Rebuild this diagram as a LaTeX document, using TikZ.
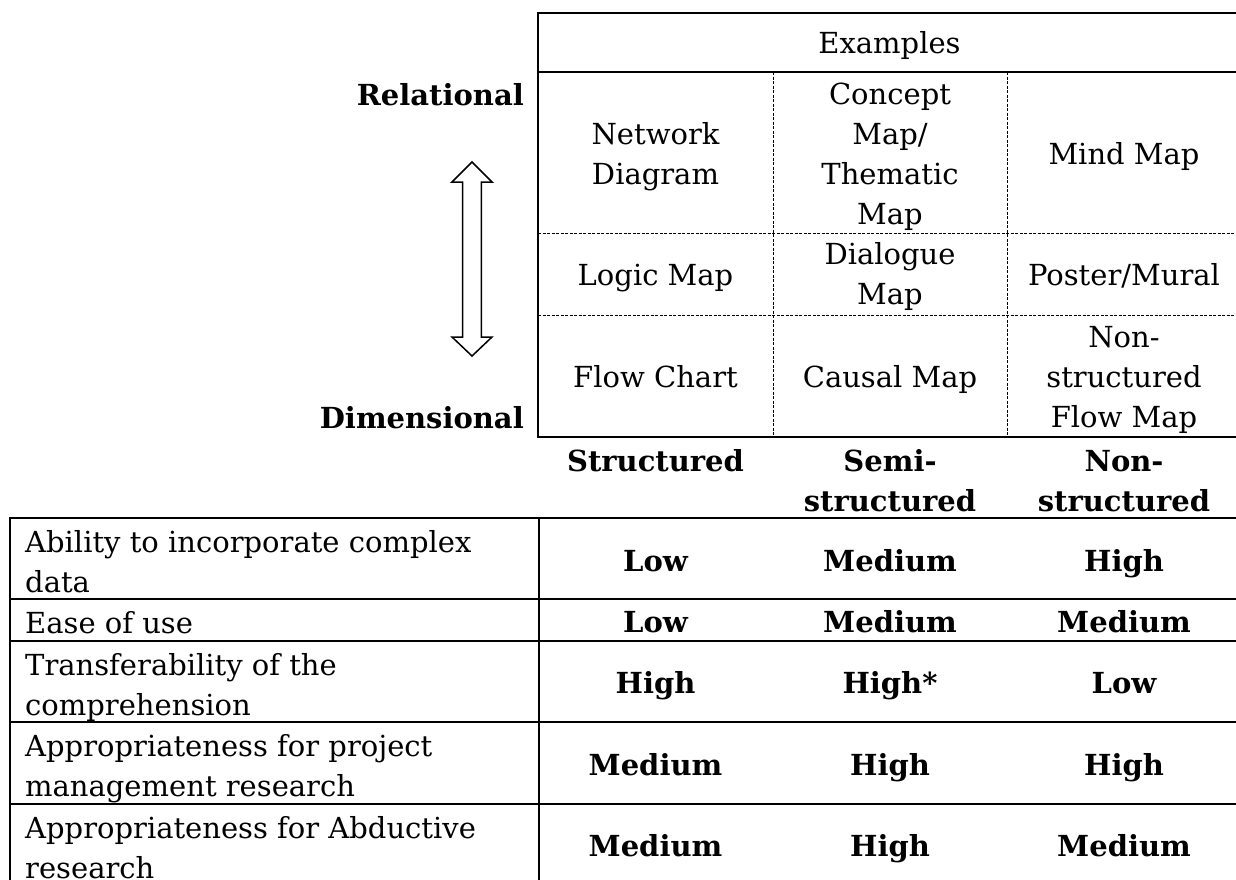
\documentclass[tikz,border=0pt]{standalone}
\usepackage{fontspec}
\setmainfont{DejaVu Serif}
\begin{document}
\begin{tikzpicture}[x=1pt,y=-1pt,
  rule/.style={line width=1.3pt},
  grid/.style={line width=0.7pt, dash pattern=on 3pt off 1.5pt},
  cell/.style={anchor=base, align=center, inner sep=0pt,
    font=\fontsize{29pt}{40pt}\selectfont},
  val/.style={cell, font=\fontsize{29pt}{40pt}\selectfont\bfseries},
  crit/.style={anchor=base west, align=left, inner sep=0pt,
    font=\fontsize{29pt}{40pt}\selectfont},
  axis/.style={anchor=base east, inner sep=0pt,
    font=\fontsize{29pt}{40pt}\selectfont\bfseries},
  blockarrow/.style={line width=1.5pt, miter limit=10, fill=white}]
\useasboundingbox (0,0) rectangle (1236,879);
\clip (0,0) rectangle (1236,879);

% examples grid
\draw[rule] (1241,13) -- (538,13) -- (538,437) -- (1241,437);
\draw[rule] (538,72) -- (1241,72);
\draw[grid] (773,72) -- (773,437);
\draw[grid] (1007,72) -- (1007,437);
\draw[grid] (538,233) -- (1241,233);
\draw[grid] (538,315) -- (1241,315);

% multi-line cells are placed by the baseline of their last line
\node[cell] (examples) at (889.5,53.5) {Examples};
\node[cell] (network) at (655.5,184) {Network\\Diagram};
\node[cell] (concept) at (890,224) {Concept\\Map/\\Thematic\\Map};
\node[cell] (mind) at (1124,164) {Mind Map};
\node[cell] (logic) at (655.5,285.5) {Logic Map};
\node[cell] (dialogue) at (890,304) {Dialogue\\Map};
\node[cell] (poster) at (1124,285.5) {Poster/Mural};
\node[cell] (flow) at (655.5,387.5) {Flow Chart};
\node[cell] (causal) at (890,387.5) {Causal Map};
\node[cell] (nsflow) at (1124,427.5) {Non-\\structured\\Flow Map};

% axis labels and double arrow
\node[axis] (relational) at (524,105) {Relational};
\node[axis] (dimensional) at (524,428) {Dimensional};
\draw[blockarrow] (472,162) -- (492,182) -- (481.3,182) -- (481.3,337)
  -- (492,337) -- (472,356) -- (452,337) -- (462.7,337) -- (462.7,182)
  -- (452,182) -- cycle;

% column headings
\node[val] (structured) at (655.5,471) {Structured};
\node[val] (semi) at (890,511) {Semi-\\structured};
\node[val] (nonstruct) at (1124,511) {Non-\\structured};

% comparison table
\draw[rule] (10,518) rectangle (1241,885);
\draw[rule] (539,518) -- (539,885);
\foreach \yy in {599,641,722,804} \draw[rule] (10,\yy) -- (1241,\yy);

\node[crit] (c1) at (25,592) {Ability to incorporate complex\\data};
\node[crit] (c2) at (25,633) {Ease of use};
\node[crit] (c3) at (25,715) {Transferability of the\\comprehension};
\node[crit] (c4) at (25,796) {Appropriateness for project\\management research};
\node[crit] (c5) at (25,878) {Appropriateness for Abductive\\research};

\node[val] (v11) at (655.5,571) {Low};
\node[val] (v12) at (890,571) {Medium};
\node[val] (v13) at (1124,571) {High};
\node[val] (v21) at (655.5,632) {Low};
\node[val] (v22) at (890,632) {Medium};
\node[val] (v23) at (1124,632) {Medium};
\node[val] (v31) at (655.5,693.5) {High};
\node[val] (v32) at (890,693.5) {High*};
\node[val] (v33) at (1124,693.5) {Low};
\node[val] (v41) at (655.5,775) {Medium};
\node[val] (v42) at (890,775) {High};
\node[val] (v43) at (1124,775) {High};
\node[val] (v51) at (655.5,856.5) {Medium};
\node[val] (v52) at (890,856.5) {High};
\node[val] (v53) at (1124,856.5) {Medium};
\end{tikzpicture}
\end{document}
